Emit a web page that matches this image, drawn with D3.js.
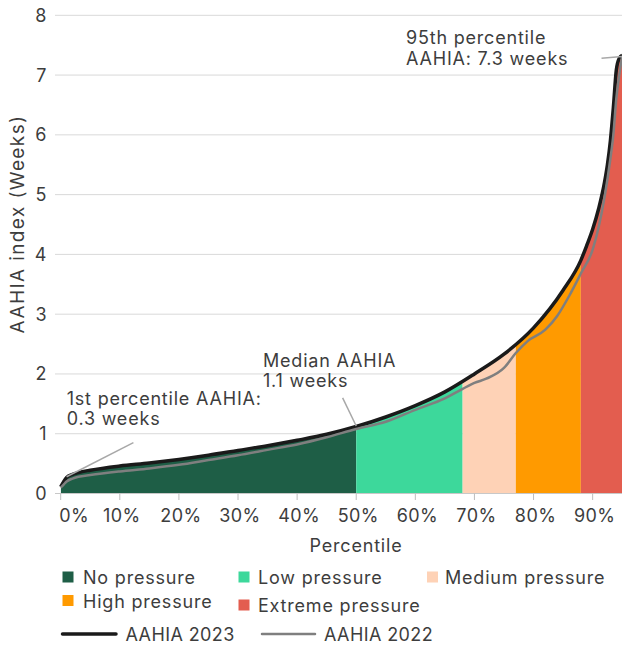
<!DOCTYPE html>
<html><head><meta charset="utf-8">
<script src="https://cdn.jsdelivr.net/npm/d3@7"></script>
<style>
body{margin:0;background:#fff;}
svg text{font-family:Inter, "Noto Sans", sans-serif; fill:#3d3d3d;}
</style>
</head><body>
<svg id="chart" width="622" height="646"></svg>
<script>
// ---- data ----
const pct2023 = [0, 0.5, 1, 2, 3, 5, 10, 15, 20, 25, 30, 35, 40, 45, 50, 55, 60, 65, 70, 75, 80, 85, 88, 89, 90, 91, 92, 92.5, 93, 93.5, 94, 94.5, 95];
const val2023 = [0.11, 0.2, 0.27, 0.32, 0.35, 0.39, 0.46, 0.51, 0.57, 0.64, 0.72, 0.8, 0.89, 0.99, 1.12, 1.28, 1.47, 1.70, 2.0, 2.33, 2.77, 3.4, 3.9, 4.15, 4.42, 4.76, 5.2, 5.5, 5.9, 6.45, 7.08, 7.28, 7.33];
const pct2022 = [0, 0.5, 1, 2, 3, 5, 10, 15, 20, 25, 30, 35, 40, 45, 50, 55, 60, 65, 68, 70, 72, 75, 77, 79, 82, 84, 86, 88, 90, 91, 92, 93, 93.5, 94, 94.5, 95];
const val2022 = [0.1, 0.15, 0.2, 0.25, 0.28, 0.31, 0.37, 0.42, 0.48, 0.56, 0.64, 0.73, 0.82, 0.94, 1.08, 1.2, 1.4, 1.59, 1.75, 1.85, 1.92, 2.1, 2.35, 2.55, 2.74, 2.97, 3.3, 3.68, 4.08, 4.45, 4.95, 5.6, 6.0, 6.6, 7.0, 7.32];
const bandNames = ["No pressure", "Low pressure", "Medium pressure", "High pressure", "Extreme pressure"];
const bandStarts = [0, 50, 68, 77, 88];
const bandEnds = [50, 68, 77, 88, 95];
const bandColors = ["#1e5e46", "#3dd89b", "#fed2b6", "#ff9a00", "#e35d4f"];
const xTicks = [0, 10, 20, 30, 40, 50, 60, 70, 80, 90];
const yTicks = [0, 1, 2, 3, 4, 5, 6, 7, 8];
const seriesNames = ["AAHIA 2023", "AAHIA 2022"];
const seriesColors = ["#1a1a1a", "#7f7f7f"];

const svg = d3.select("#chart");
const x = d3.scaleLinear().domain([0, 95]).range([60.7, 622.2]);
const y = d3.scaleLinear().domain([0, 8]).range([493.5, 15.3]);
const gridX0 = 55, gridX1 = 622;
const FS = "18px", LS = "0.8px";

// grid + y labels
svg.append("g").selectAll("line").data(yTicks).join("line")
  .attr("x1", gridX0).attr("x2", gridX1)
  .attr("y1", d => y(d)).attr("y2", d => y(d))
  .attr("stroke", "#d9d9d9").attr("stroke-width", 1);
svg.append("g").selectAll("text").data(yTicks).join("text")
  .attr("x", 46.5).attr("y", d => y(d)).attr("dy", "0.36em")
  .attr("text-anchor", "end").style("font-size", FS)
  .text(d => d);

// y title
svg.append("text")
  .attr("transform", `translate(24,224) rotate(-90)`)
  .attr("text-anchor", "middle").style("font-size", "19px").style("letter-spacing", "1.4px")
  .text("AAHIA index (Weeks)");

const d23 = pct2023.map((p, i) => ({p, v: val2023[i]}));
const d22 = pct2022.map((p, i) => ({p, v: val2022[i]}));

const area = d3.area().x(d => x(d.p)).y0(y(0)).y1(d => y(d.v)).curve(d3.curveMonotoneX);
const line = d3.line().x(d => x(d.p)).y(d => y(d.v)).curve(d3.curveMonotoneX);

const defs = svg.append("defs");
bandNames.forEach((n, i) => {
  defs.append("clipPath").attr("id", "band" + i).append("rect")
    .attr("x", x(bandStarts[i])).attr("width", x(bandEnds[i]) - x(bandStarts[i]))
    .attr("y", 0).attr("height", y(0));
  svg.append("path").datum(d23).attr("d", area)
    .attr("fill", bandColors[i]).attr("clip-path", `url(#band${i})`);
});

// x axis
const xAxis = svg.append("g").attr("transform", `translate(0,${y(0)})`);
xAxis.append("line").attr("x1", gridX0).attr("x2", gridX1).attr("stroke", "#c8c8c8");
xAxis.selectAll(".tk").data(xTicks).join("line")
  .attr("x1", d => x(d)).attr("x2", d => x(d)).attr("y1", 0).attr("y2", 6.5)
  .attr("stroke", "#bdbdbd");
xAxis.selectAll("text").data(xTicks).join("text")
  .attr("x", d => d === 0 ? x(d) - 1.5 : x(d) + 2)
  .attr("y", 28.2)
  .attr("text-anchor", d => d === 0 ? "start" : "middle")
  .style("font-size", FS).style("letter-spacing", "0.4px")
  .text(d => d + "%");
svg.append("text").attr("x", 356).attr("y", 551.5).attr("text-anchor", "middle")
  .style("font-size", FS).style("letter-spacing", LS).text("Percentile");

// lines
svg.append("path").datum(d23).attr("d", line).attr("fill", "none")
  .attr("stroke", seriesColors[0]).attr("stroke-width", 3.5).attr("stroke-linejoin", "round");
svg.append("path").datum(d22).attr("d", line).attr("fill", "none")
  .attr("stroke", seriesColors[1]).attr("stroke-width", 2.5).attr("stroke-linejoin", "round");

// annotations
const ann = svg.append("g");
function leader(p1, v1, p2, v2) {
  ann.append("line").attr("x1", x(p1)).attr("y1", y(v1)).attr("x2", x(p2)).attr("y2", y(v2))
    .attr("stroke", "#a8a8a8").attr("stroke-width", 1.5);
}
function label(tx, ty, lines) {
  const t = ann.append("text").attr("x", tx).attr("y", ty)
    .style("font-size", FS).style("letter-spacing", LS);
  lines.forEach((l, i) => t.append("tspan").attr("x", tx).attr("dy", i ? 20.5 : 0).text(l));
}
leader(12.3, 0.85, 1, 0.28);
leader(47.7, 1.6, 50, 1.13);
leader(91.5, 7.28, 95, 7.31);
label(66.7, 404.5, ["1st percentile AAHIA:", "0.3 weeks"]);
label(263, 366.5, ["Median AAHIA", "1.1 weeks"]);
label(406, 44.3, ["95th percentile", "AAHIA: 7.3 weeks"]);

// legend
const legPos = [[62.5, 571.5, 83, 583.5], [238.5, 571.5, 258, 583.5], [427, 571.5, 445, 583.5],
                [62.5, 595, 83, 607.5], [238.5, 599.5, 258, 611.5]];
const leg = svg.append("g");
bandNames.forEach((n, i) => {
  const [sx, sy, tx, ty] = legPos[i];
  leg.append("rect").attr("x", sx).attr("y", sy).attr("width", 11).attr("height", 11).attr("fill", bandColors[i]);
  leg.append("text").attr("x", tx).attr("y", ty).style("font-size", FS).style("letter-spacing", LS).text(n);
});
const linePos = [[62.5, 116, 125.5], [262, 315, 324]];
seriesNames.forEach((n, i) => {
  const [a, b, tx] = linePos[i];
  leg.append("line").attr("x1", a).attr("x2", b).attr("y1", 634).attr("y2", 634)
    .attr("stroke", seriesColors[i]).attr("stroke-width", i ? 2.5 : 3.5).attr("stroke-linecap", "round");
  leg.append("text").attr("x", tx).attr("y", 640.5).style("font-size", FS).style("letter-spacing", "0.4px").text(n);
});
</script>
</body></html>
